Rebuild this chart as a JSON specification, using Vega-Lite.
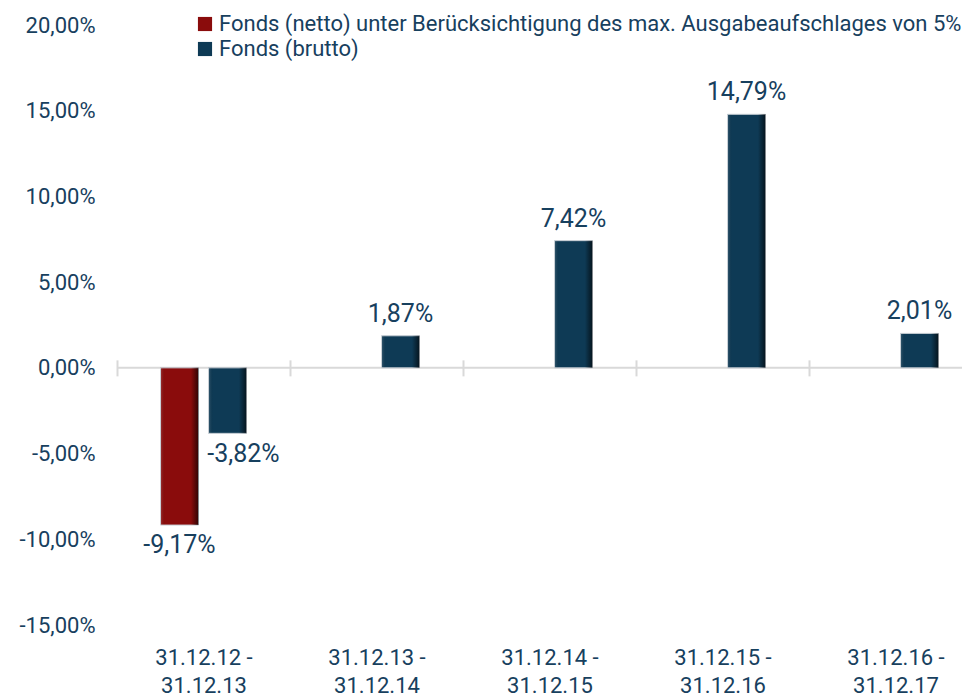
{
  "$schema": "https://vega.github.io/schema/vega-lite/v6.json",
  "width": 845,
  "height": 600,
  "autosize": {"type": "none"},
  "padding": {"left": 117, "top": 25, "right": 0, "bottom": 72},
  "background": "white",
  "config": {
    "view": {"stroke": null},
    "font": "Roboto",
    "locale": {"number": {"decimal": ",", "thousands": ".", "grouping": [3], "currency": ["", " €"], "minus": "-", "percent": "%"}}
  },
  "data": {
    "values": [
      {"period": "31.12.12 - 31.12.13", "series": "Fonds (netto) unter Berücksichtigung des max. Ausgabeaufschlages von 5%", "value": -0.0917},
      {"period": "31.12.12 - 31.12.13", "series": "Fonds (brutto)", "value": -0.0382},
      {"period": "31.12.13 - 31.12.14", "series": "Fonds (brutto)", "value": 0.0187},
      {"period": "31.12.14 - 31.12.15", "series": "Fonds (brutto)", "value": 0.0742},
      {"period": "31.12.15 - 31.12.16", "series": "Fonds (brutto)", "value": 0.1479},
      {"period": "31.12.16 - 31.12.17", "series": "Fonds (brutto)", "value": 0.0201}
    ]
  },
  "layer": [
    {
      "data": {"values": [{"zero": 0}]},
      "mark": {"type": "rule", "color": "#d9d9d9", "strokeWidth": 2},
      "encoding": {"y": {"field": "zero", "type": "quantitative"}}
    },
    {
      "mark": {"type": "bar", "stroke": "#c5ccd3", "strokeWidth": 1},
      "encoding": {
        "x": {
          "field": "period", "type": "nominal", "sort": null,
          "scale": {"range": [0, 865], "paddingInner": 0, "paddingOuter": 0},
          "axis": {
            "title": null, "domain": false, "offset": -265.14, "tickBand": "extent",
            "tickSize": 16, "tickColor": "#d9d9d9", "tickWidth": 2,
            "labelPadding": 272, "labelAngle": 0, "labelFontSize": 22, "labelColor": "#17405e",
            "labelLineHeight": 28, "labelBaseline": "top", "labelOverlap": false, "labelFlush": false,
            "labelExpr": "[slice(datum.label, 0, 10), slice(datum.label, 11)]"
          }
        },
        "xOffset": {
          "field": "series", "type": "nominal",
          "sort": ["Fonds (netto) unter Berücksichtigung des max. Ausgabeaufschlages von 5%", "Fonds (brutto)"],
          "scale": {"paddingInner": 0.208, "paddingOuter": 0.906}
        },
        "y": {
          "field": "value", "type": "quantitative",
          "scale": {"domain": [-0.15, 0.2], "nice": false},
          "axis": {
            "title": null, "domain": false, "ticks": false, "grid": false,
            "values": [-0.15, -0.1, -0.05, 0, 0.05, 0.1, 0.15, 0.2],
            "format": ".2%", "labelFontSize": 22, "labelColor": "#17405e", "labelPadding": 22
          }
        },
        "color": {
          "field": "series", "type": "nominal",
          "scale": {
            "domain": ["Fonds (netto) unter Berücksichtigung des max. Ausgabeaufschlages von 5%", "Fonds (brutto)"],
            "range": ["#8a0c0c", "#0e3a55"]
          },
          "legend": {
            "title": null, "orient": "none", "legendX": 77, "legendY": -12, "direction": "vertical",
            "symbolType": "square", "symbolSize": 200, "symbolStrokeWidth": 0, "symbolOpacity": 1,
            "labelFontSize": 22, "labelColor": "#17405e", "labelOffset": 3, "rowPadding": 3, "labelLimit": 900
          }
        }
      }
    },
    {
      "mark": {
        "type": "bar",
        "fill": {
          "gradient": "linear", "x1": 0, "x2": 1, "y1": 0, "y2": 0,
          "stops": [
            {"offset": 0, "color": "rgba(255,255,255,0.18)"},
            {"offset": 0.12, "color": "rgba(0,0,0,0)"},
            {"offset": 0.8, "color": "rgba(0,0,0,0)"},
            {"offset": 1, "color": "rgba(0,0,0,0.65)"}
          ]
        }
      },
      "encoding": {
        "x": {"field": "period", "type": "nominal", "sort": null},
        "xOffset": {"field": "series", "type": "nominal", "sort": ["Fonds (netto) unter Berücksichtigung des max. Ausgabeaufschlages von 5%", "Fonds (brutto)"]},
        "y": {"field": "value", "type": "quantitative"}
      }
    },
    {
      "transform": [{"filter": "datum.value >= 0"}],
      "mark": {"type": "text", "baseline": "alphabetic", "dy": -14, "fontSize": 25, "color": "#17405e"},
      "encoding": {
        "x": {"field": "period", "type": "nominal", "sort": null},
        "xOffset": {"field": "series", "type": "nominal", "sort": ["Fonds (netto) unter Berücksichtigung des max. Ausgabeaufschlages von 5%", "Fonds (brutto)"]},
        "y": {"field": "value", "type": "quantitative"},
        "text": {"field": "value", "type": "quantitative", "format": ".2%"}
      }
    },
    {
      "transform": [{"filter": "datum.value < 0 && datum.series != 'Fonds (brutto)'"}],
      "mark": {"type": "text", "baseline": "top", "dy": 8, "fontSize": 25, "color": "#17405e"},
      "encoding": {
        "x": {"field": "period", "type": "nominal", "sort": null},
        "xOffset": {"field": "series", "type": "nominal", "sort": ["Fonds (netto) unter Berücksichtigung des max. Ausgabeaufschlages von 5%", "Fonds (brutto)"]},
        "y": {"field": "value", "type": "quantitative"},
        "text": {"field": "value", "type": "quantitative", "format": ".2%"}
      }
    },
    {
      "transform": [{"filter": "datum.value < 0 && datum.series == 'Fonds (brutto)'"}],
      "mark": {"type": "text", "baseline": "top", "dy": 9, "dx": 16, "fontSize": 25, "color": "#17405e"},
      "encoding": {
        "x": {"field": "period", "type": "nominal", "sort": null},
        "xOffset": {"field": "series", "type": "nominal", "sort": ["Fonds (netto) unter Berücksichtigung des max. Ausgabeaufschlages von 5%", "Fonds (brutto)"]},
        "y": {"field": "value", "type": "quantitative"},
        "text": {"field": "value", "type": "quantitative", "format": ".2%"}
      }
    }
  ]
}
